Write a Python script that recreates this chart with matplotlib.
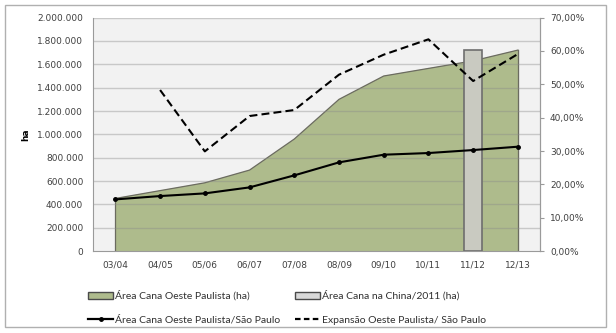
import matplotlib
matplotlib.use('Agg')
import matplotlib.pyplot as plt
import numpy as np
from matplotlib.ticker import FuncFormatter
from matplotlib.patches import Rectangle, Patch
from matplotlib.lines import Line2D

# Dados
safras = ['03/04', '04/05', '05/06', '06/07', '07/08', '08/09', '09/10', '10/11', '11/12', '12/13']
area_oeste = [451000, 518000, 585000, 694000, 960000, 1300000, 1500000, 1565000, 1630000, 1722000]
area_china = [None, None, None, None, None, None, None, None, 1722000, None]
pct_oeste_sp = [15.5, 16.5, 17.3, 19.1, 22.7, 26.6, 28.9, 29.4, 30.3, 31.3]
expansao = [None, 48.3, 29.9, 40.5, 42.3, 52.9, 58.9, 63.5, 51.0, 59.1]

x = np.arange(len(safras))

fig = plt.figure(figsize=(6.16, 3.33), dpi=100)
fig.patches.append(Rectangle((0.008, 0.018), 0.975, 0.968, transform=fig.transFigure,
                             fill=False, edgecolor='#b0b0b0', linewidth=1))
ax = fig.add_axes([0.151, 0.246, 0.726, 0.701])
ax.set_facecolor('#f2f2f2')

# area
ax.fill_between(x, area_oeste, color='#aebb8c', zorder=2)
ax.plot(x, area_oeste, color='#6b6b60', linewidth=0.9, zorder=2.1)
ax.plot([x[0], x[0]], [0, area_oeste[0]], color='#6b6b60', linewidth=0.9, zorder=2.1)
ax.plot([x[-1], x[-1]], [0, area_oeste[-1]], color='#6b6b60', linewidth=0.9, zorder=2.1)

# barra China
xb = [i for i, v in enumerate(area_china) if v is not None]
yb = [v for v in area_china if v is not None]
ax.bar(xb, yb, width=0.4, color='#c9cac1', edgecolor='#6e6e6e', linewidth=1.2, zorder=3)

# grid
for v in np.arange(200000, 2000001, 200000):
    ax.axhline(v, color='#8a8a8a', alpha=0.4, linewidth=1, zorder=2.5)

ax.set_xlim(-0.5, len(safras) - 0.5)
ax.set_ylim(0, 2000000)
ax.set_yticks(np.arange(0, 2000001, 200000))
ax.yaxis.set_major_formatter(FuncFormatter(lambda v, p: '0' if v == 0 else f'{int(v):,}'.replace(',', '.')))
ax.set_xticks(x)
ax.set_xticklabels(safras)
ax.tick_params(axis='y', length=0, labelsize=6.5, colors='#404040', pad=7)
ax.tick_params(axis='x', length=0, labelsize=6.5, colors='#404040', pad=7)
ax.spines['top'].set_visible(False)
for s in ['left', 'bottom', 'right']:
    ax.spines[s].set_color('#9a9a9a')
ax.set_ylabel('ha', fontsize=6.5, fontweight='bold')
ax.yaxis.set_label_coords(-0.141, 0.5)

# eixo secundário
ax2 = ax.twinx()
ax2.set_ylim(0, 70)
ax2.set_yticks(np.arange(0, 71, 10))
ax2.yaxis.set_major_formatter(FuncFormatter(lambda v, p: f'{v:.2f}'.replace('.', ',') + '%'))
ax2.tick_params(axis='y', length=3, labelsize=6.5, colors='#404040', pad=4)
ax2.tick_params(axis='y', color='#9a9a9a')
for s in ['top', 'left', 'bottom']:
    ax2.spines[s].set_visible(False)
ax2.spines['right'].set_color('#9a9a9a')

exp = np.array([np.nan if v is None else v for v in expansao], dtype=float)
ax2.plot(x, pct_oeste_sp, color='black', linewidth=1.5, marker='o', markersize=2.5, zorder=4)
ax2.plot(x, exp, color='black', linewidth=1.5, linestyle=(0, (3.8, 2)), zorder=4)

# legenda
h = [Patch(facecolor='#aebb8c', edgecolor='#4a4a4a', linewidth=1),
     Line2D([], [], color='black', linewidth=1.6, marker='o', markersize=2.5),
     Patch(facecolor='#d9d9d9', edgecolor='#4a4a4a', linewidth=1),
     Line2D([], [], color='black', linewidth=1.6, linestyle=(0, (2.5, 1.5)))]
labels = ['Área Cana Oeste Paulista (ha)', 'Área Cana Oeste Paulista/São Paulo',
          'Área Cana na China/2011 (ha)', 'Expansão Oeste Paulista/ São Paulo']
leg = fig.legend(h, labels, ncol=2, loc='lower left', bbox_to_anchor=(0.128, -0.004),
                 frameon=False, prop={'family': 'Lato', 'size': 7.5}, handlelength=2.4,
                 handleheight=0.7, handletextpad=0.15, columnspacing=1.45, labelspacing=1.4)
for t in leg.get_texts():
    t.set_color('#303030')

fig.savefig('out.png', dpi=100)
